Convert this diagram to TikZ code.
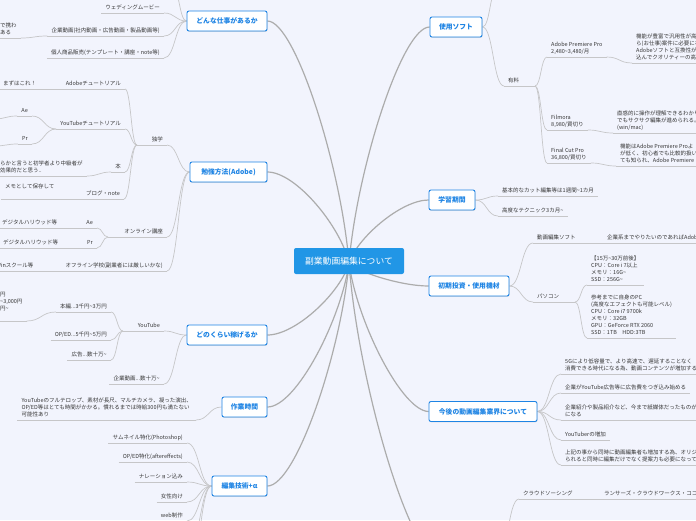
\documentclass[tikz,border=0pt]{standalone}
\usepackage{fontspec}
\setmainfont{Noto Sans CJK JP}
\usetikzlibrary{shadows,backgrounds,calc}
\newcommand\tld{\textasciitilde}
\definecolor{bgc}{RGB}{242,244,253}
\definecolor{boxblue}{RGB}{30,132,228}
\definecolor{ctrblue}{RGB}{33,150,230}
\definecolor{txt}{RGB}{55,55,55}
\definecolor{lnmain}{RGB}{172,172,172}
\definecolor{lnsub}{RGB}{198,198,200}
\tikzset{
 mbox/.style={draw=boxblue, line width=0.9pt, fill=white, rounded corners=2pt, text=boxblue,
   font=\fontsize{6.8}{8}\selectfont\bfseries, minimum height=20pt, inner sep=0pt,
   drop shadow={shadow xshift=0.5pt, shadow yshift=-0.9pt, opacity=0.22}},
 cbox/.style={fill=ctrblue, rounded corners=2pt, text=white, font=\fontsize{8.8}{10}\selectfont,
   minimum width=110pt, minimum height=26pt, inner sep=0pt},
 lf/.style={font=\fontsize{5.5}{7}\selectfont, text=txt, inner xsep=4pt, inner ysep=2.5pt, align=left, text depth=0.8pt},
 ll/.style={lf, anchor=south east},
 lr/.style={lf, anchor=south west},
 ul/.style={draw=lnsub, line width=0.7pt},
 cl/.style={draw=lnsub, line width=0.7pt},
 ml/.style={draw=lnmain, line width=1.2pt},
 hs/.style={to path={.. controls ($(\tikztostart)!0.5!(\tikztostart-|\tikztotarget)$)
   and ($(\tikztotarget)!0.5!(\tikztotarget-|\tikztostart)$) .. (\tikztotarget)}},
}
\begin{document}
\begin{tikzpicture}[x=1pt,y=-1pt]
\useasboundingbox (0,0) rectangle (696,520);
\clip (0,0) rectangle (696,520);

% ---------- main nodes
\node[cbox] (c) at (349,261) {副業動画編集について};
\coordinate (cp) at (349,263);
\node[mbox, minimum width=80pt] (jobs) at (227,21) {どんな仕事があるか};
\node[mbox, minimum width=77pt] (study) at (228.5,172) {勉強方法(Adobe)};
\node[mbox, minimum width=80pt] (earn) at (227,335) {どのくらい稼げるか};
\node[mbox, minimum width=45pt] (work) at (244.5,407) {作業時間};
\node[mbox, minimum width=55pt] (skill) at (239.5,486) {編集技術+α};
\node[mbox, minimum width=52pt] (soft) at (456,27) {使用ソフト};
\node[mbox, minimum width=46pt] (period) at (452,200) {学習期間};
\node[mbox, minimum width=80pt] (invest) at (469,286) {初期投資・使用機材};
\node[mbox, minimum width=108pt] (future) at (483,411.5) {今後の動画編集業界について};

% ---------- left leaves
\coordinate (j0) at (172,-14);
\node[ll] (j1) at (164,13) {ウェディングムービー};
\node[ll] (j2) at (164,36) {企業動画(社内動画・広告動画・製品動画等)};
\node[lr] (j2a) at (-4,38) {で携わ\\ある};
\node[ll] (j3) at (164,58) {個人商品販売(テンプレート・講座・note等)};

\node[ll] (s1) at (167,145) {独学};
\coordinate (s1t) at (137,145);
\node[ll] (s11) at (125,89) {Adobeチュートリアル};
\node[lr] (s11a) at (-1,89) {まずはこれ！};
\node[ll] (s12) at (125,129) {YouTubeチュートリアル};
\node[ll] (s12a) at (32,116) {Ae};
\node[ll] (s12b) at (32,144) {Pr};
\coordinate (s12ax) at (-6,119);
\coordinate (s12bx) at (-6,146);
\node[ll] (s13) at (125,172) {本};
\node[lr] (s13a) at (-4,176) {らかと言うと初学者より中級者が\\効果的だと思う..};
\node[ll] (s14) at (124,199) {ブログ・note};
\node[lr] (s14a) at (1,199) {メモとして保存して\\\phantom{あ}};
\node[ll] (s2) at (167,237) {オンライン講座};
\coordinate (s2t) at (108,237);
\node[ll] (s21) at (97,228) {Ae};
\node[lr] (s21a) at (-2,228) {デジタルハリウッド等};
\node[ll] (s22) at (97,248) {Pr};
\node[lr] (s22a) at (-1,248) {デジタルハリウッド等};
\node[ll] (s3) at (167,271) {オフライン学校(副業者には厳しいかな)};
\node[lr] (s3a) at (-8,271) {Winスクール等};

\node[ll] (e1) at (164,331) {YouTube};
\coordinate (e1t) at (123,331);
\node[ll] (e11) at (111,312) {本編...3千円\tld 3万円};
\node[lr] (e11a) at (-4,321) {円\\\tld 3,000円\\円\tld\\\phantom{円}};
\node[ll] (e12) at (111,340) {OP/ED...5千円\tld 5万円};
\node[ll] (e13) at (111,360) {広告...数十万\tld};
\node[ll] (e2) at (164,384) {企業動画...数十万\tld};

\node[ll] (w1) at (196,420) {YouTubeのフルテロップ、素材が長尺、マルチカメラ、凝った演出、\\OP/ED等はとても時間がかかる。慣れるまでは時給300円も満たない\\可能性あり};

\node[ll] (k1) at (187,443) {サムネイル特化(Photoshop)};
\node[ll] (k2) at (187,462) {OP/ED特化(aftereffects)};
\node[ll] (k3) at (187,482) {ナレーション込み};
\node[ll] (k4) at (187,502) {女性向け};
\node[ll] (k5) at (187,521) {web制作};
\coordinate (k6) at (190,541);
\coordinate (k7) at (190,561);

% ---------- right leaves
\coordinate (rim) at (700,0);
\coordinate (f0) at (498,-14);
\node[lr] (f1) at (504,86) {有料};
\coordinate (f1t) at (535,86);
\node[lr] (f11) at (547,57) {Adobe Premiere Pro\\2,480\tld 3,480/月};
\node[lr] (f11a) at (632,63) {機能が豊富で汎用性が高\\ら(お仕事)案件に必要にな\\Adobeソフトと互換性が\\込んでクオリティーの高};
\node[lr] (f12) at (547,130) {Filmora\\8,980/買切り};
\node[lr] (f12a) at (613,133) {直感的に操作が理解できるわかり\\でもサクサク編集が進められる。\\(win/mac)};
\node[lr] (f13) at (547,163) {Final Cut Pro\\36,800/買切り};
\node[lr] (f13a) at (616,166) {機能はAdobe Premiere Proよ\\が低く、初心者でも比較的扱い\\ても知られ、Adobe Premiere};

\node[lr] (p1) at (498,196) {基本的なカット編集等は1週間\tld 1カ月};
\node[lr] (p2) at (498,216) {高度なテクニック3カ月\tld};

\node[lr] (i1) at (533,243) {動画編集ソフト};
\node[lr] (i1a) at (603,243) {企業系までやりたいのであればAdobe};
\node[lr] (i2) at (533,302) {パソコン};
\coordinate (i2t) at (575,302);
\node[lr] (i21) at (587,285) {【15万\tld 30万前後】\\CPU：Core i 7以上\\メモリ：16G\tld\\SSD：256G\tld};
\node[lr] (i22) at (587,338) {参考までに自身のPC\\(高度なエフェクトも可能レベル)\\CPU：Core i7 9700k\\メモリ：32GB\\GPU：GeForce RTX 2060\\SSD：1TB\quad HDD:3TB};

\node[lr] (u1) at (561,374) {5Gにより低容量で、より高速で、遅延することなく\\消費できる時代になる為、動画コンテンツが増加する};
\node[lr] (u2) at (561,393) {企業がYouTube広告等に広告費をつぎ込み始める};
\node[lr] (u3) at (561,420) {企業紹介や製品紹介など、今まで紙媒体だったものが\\になる};
\node[lr] (u4) at (561,440) {YouTuberの増加};
\node[lr] (u5) at (561,465) {上記の事から同時に動画編集者も増加する為、オリジ\\られると同時に編集だけでなく提案力も必要になって};

\coordinate (botw) at (440,560);
\coordinate (bote) at (496,566);
\node[lr] (b1) at (519,499) {クラウドソーシング};
\node[lr] (b1a) at (600,499) {ランサーズ・クラウドワークス・ココナラ};

% ---------- connectors (behind)
\begin{pgfonlayer}{background}
\clip (0,0) rectangle (696,520);
\fill[bgc] (0,0) rectangle (696,520);
% main
\draw[ml] (cp) .. controls (341,166) and (295,21) .. (jobs.east);
\draw[ml] (cp) .. controls (341,227) and (296,172) .. (study.east);
\draw[ml] (cp) .. controls (341,292) and (296,335) .. (earn.east);
\draw[ml] (cp) .. controls (341,320) and (296,407) .. (work.east);
\draw[ml] (cp) .. controls (341,352) and (296,486) .. (skill.east);
\draw[ml] (cp) .. controls (357,169) and (402,27) .. (soft.west);
\draw[ml] (cp) .. controls (357,238) and (401,200) .. (period.west);
\draw[ml] (cp) .. controls (357,272) and (401,286) .. (invest.west);
\draw[ml] (cp) .. controls (357,322) and (402,411) .. (future.west);
\draw[ml] (cp) .. controls (358,382) and (410,560) .. (botw);
% underlines
\foreach \n in {j1,j2,j2a,j3,s11,s11a,s12,s12a,s12b,s13,s13a,s14,s14a,s21,s21a,s22,s22a,s3,s3a,
  e11,e11a,e12,e13,e2,w1,k1,k2,k3,k4,k5,f11,f12,f13,p1,p2,i1,i21,i22,u2,u4,b1}
  \draw[ul] (\n.south west) -- (\n.south east);
\draw[ul] (s1t) -- (s1.south east);
\draw[ul] (s2t) -- (s2.south east);
\draw[ul] (e1t) -- (e1.south east);
\draw[ul] (f1.south west) -- (f1t);
\draw[ul] (i2.south west) -- (i2t);
\foreach \n in {f11a,f12a,f13a,i1a,u1,u3,u5,b1a}
  \draw[ul] (\n.south west) -- (\n.south west -| rim);
% jobs
\foreach \n in {j0,j1.south east,j2.south east,j3.south east}
  \draw[cl] (jobs.west) to[hs] (\n);
\draw[cl] (j2.south west) to[hs] (j2a.south east);
% study
\foreach \n in {s1,s2,s3} \draw[cl] (study.west) to[hs] (\n.south east);
\foreach \n in {s11,s12,s13,s14} \draw[cl] (s1t) to[hs] (\n.south east);
\draw[cl] (s11.south west) to[hs] (s11a.south east);
\draw[cl] (s12.south west) to[hs] (s12a.south east);
\draw[cl] (s12.south west) to[hs] (s12b.south east);
\draw[cl] (s12a.south west) to[hs] (s12ax);
\draw[cl] (s12b.south west) to[hs] (s12bx);
\draw[cl] (s13.south west) to[hs] (s13a.south east);
\draw[cl] (s14.south west) to[hs] (s14a.south east);
\draw[cl] (s2t) to[hs] (s21.south east);
\draw[cl] (s2t) to[hs] (s22.south east);
\draw[cl] (s21.south west) to[hs] (s21a.south east);
\draw[cl] (s22.south west) to[hs] (s22a.south east);
\draw[cl] (s3.south west) to[hs] (s3a.south east);
% earn
\draw[cl] (earn.west) to[hs] (e1.south east);
\draw[cl] (earn.west) to[hs] (e2.south east);
\foreach \n in {e11,e12,e13} \draw[cl] (e1t) to[hs] (\n.south east);
\draw[cl] (e11.south west) to[hs] (e11a.south east);
% work
\draw[cl] (work.west) to[hs] (w1.south east);
% skill
\foreach \n in {k1.south east,k2.south east,k3.south east,k4.south east,k5.south east,k6,k7}
  \draw[cl] (skill.west) to[hs] (\n);
% soft
\draw[cl] (soft.east) to[hs] (f0);
\draw[cl] (soft.east) to[hs] (f1.south west);
\foreach \n in {f11,f12,f13} \draw[cl] (f1t) to[hs] (\n.south west);
\draw[cl] (f11.south east) to[hs] (f11a.south west);
\draw[cl] (f12.south east) to[hs] (f12a.south west);
\draw[cl] (f13.south east) to[hs] (f13a.south west);
% period
\draw[cl] (period.east) to[hs] (p1.south west);
\draw[cl] (period.east) to[hs] (p2.south west);
% invest
\draw[cl] (invest.east) to[hs] (i1.south west);
\draw[cl] (invest.east) to[hs] (i2.south west);
\draw[cl] (i1.south east) to[hs] (i1a.south west);
\draw[cl] (i2t) to[hs] (i21.south west);
\draw[cl] (i2t) to[hs] (i22.south west);
% future
\foreach \n in {u1,u2,u3,u4,u5} \draw[cl] (future.east) to[hs] (\n.south west);
% bottom
\draw[cl] (bote) to[hs] (b1.south west);
\draw[cl] (b1.south east) to[hs] (b1a.south west);
\end{pgfonlayer}
\end{tikzpicture}
\end{document}
